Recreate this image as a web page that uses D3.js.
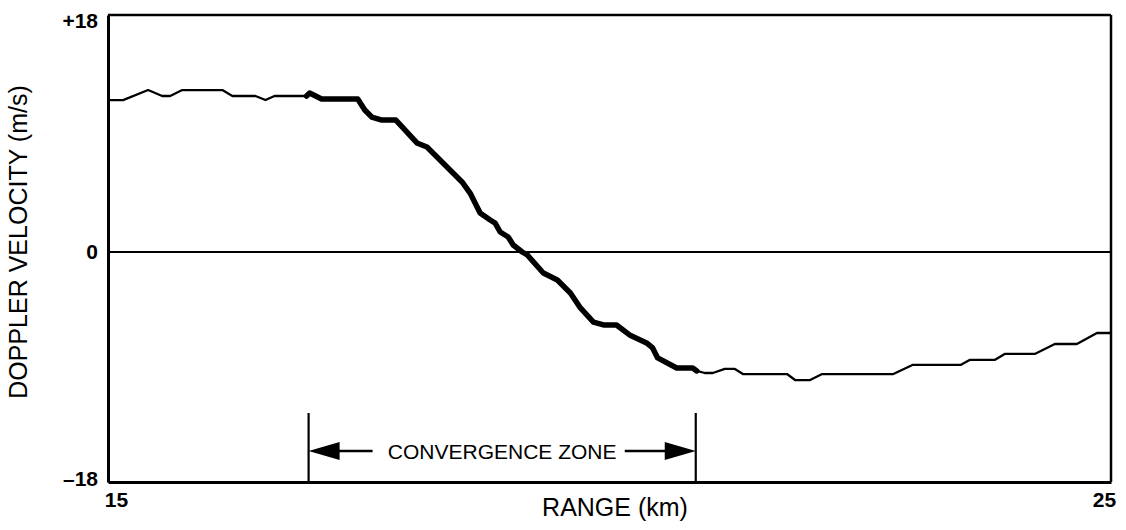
<!DOCTYPE html>
<html>
<head>
<meta charset="utf-8">
<script src="https://cdn.jsdelivr.net/npm/d3@7"></script>
<style>
  html, body { margin: 0; padding: 0; background: #fff; overflow: hidden; }
  svg { display: block; }
  text { font-family: "Liberation Sans", Arial, Helvetica, sans-serif; fill: #000; }
</style>
</head>
<body>
<svg class="chart"></svg>
<script>
// range along the radial (km) and doppler velocity (m/s)
const rangeKm = [15.00, 15.15, 15.40, 15.54, 15.62, 15.74, 16.14, 16.24, 16.47, 16.57, 16.66, 16.98,
  17.01, 17.13, 17.49, 17.56, 17.63, 17.73, 17.87, 18.08, 18.18, 18.36, 18.53, 18.61, 18.71, 18.81,
  18.86, 18.91, 18.99, 19.04, 19.13, 19.18, 19.34, 19.48, 19.61, 19.71, 19.84, 19.94, 20.07, 20.20,
  20.37, 20.43, 20.48, 20.67, 20.83, 20.87,
  20.95, 21.03, 21.15, 21.25, 21.33, 21.77, 21.85, 22.00, 22.12, 22.83, 23.02, 23.50, 23.59, 23.84,
  23.94, 24.24, 24.44, 24.66, 24.86, 25.00];
const velocity = [11.54, 11.54, 12.30, 11.85, 11.85, 12.30, 12.30, 11.85, 11.85, 11.54, 11.85, 11.85,
  12.07, 11.62, 11.62, 10.78, 10.25, 10.02, 10.02, 8.28, 7.97, 6.61, 5.32, 4.48, 2.96, 2.43,
  2.20, 1.52, 1.14, 0.53, 0.00, -0.23, -1.64, -2.19, -3.21, -4.38, -5.48, -5.71, -5.71, -6.49,
  -7.12, -7.51, -8.29, -9.08, -9.08, -9.31,
  -9.47, -9.47, -9.15, -9.15, -9.55, -9.55, -10.02, -10.02, -9.55, -9.55, -8.84, -8.84, -8.45, -8.45,
  -7.98, -7.98, -7.20, -7.20, -6.34, -6.34];

const yTicks = [-18, 0, 18];
const yTickLabels = ["\u201318", "0", "+18"];
const xTicks = [15, 25];
const xTickLabels = ["15", "25"];
const zone = [17.0, 20.86];   // convergence zone (km)
const zoneLabel = "CONVERGENCE ZONE";

const width = 1126;
const height = 530;
const margin = {left: 108, top: 15, right: 15, bottom: 48};
const innerWidth = width - margin.left - margin.right;
const innerHeight = height - margin.top - margin.bottom;

const svg = d3.select('.chart')
  .attr('width', width)
  .attr('height', height);

const data = rangeKm.map((r, i) => ({r: r, v: velocity[i]}));

const x = d3.scaleLinear().domain([15, 25]).range([0, innerWidth]);
const y = d3.scaleLinear().domain([-18, 0, 18]).range([innerHeight, 237, 0]);

const g = svg.append('g')
  .attr('transform', `translate(${margin.left},${margin.top})`);

// zero line
g.append('line')
  .attr('x1', 0).attr('x2', innerWidth)
  .attr('y1', y(0)).attr('y2', y(0))
  .attr('stroke', '#000').attr('stroke-width', 2.2);

// frame
g.append('line').attr('x1', 0).attr('x2', innerWidth).attr('y1', 0).attr('y2', 0)
  .attr('stroke', '#000').attr('stroke-width', 2.5);
g.append('line').attr('x1', innerWidth).attr('x2', innerWidth).attr('y1', 0).attr('y2', innerHeight)
  .attr('stroke', '#000').attr('stroke-width', 2.5);

const line = d3.line().x(d => x(d.r)).y(d => y(d.v));

// thin trace, then thick trace over the convergence zone
g.append('path').datum(data)
  .attr('fill', 'none').attr('stroke', '#000').attr('stroke-width', 2.3)
  .attr('stroke-linejoin', 'round')
  .attr('d', line);
g.append('path').datum(data.filter(d => d.r >= zone[0] - 0.02 && d.r <= zone[1] + 0.02))
  .attr('fill', 'none').attr('stroke', '#000').attr('stroke-width', 5.5)
  .attr('stroke-linejoin', 'round').attr('stroke-linecap', 'round')
  .attr('d', line);

// y axis
const yAxis = d3.axisLeft(y).tickValues(yTicks).tickSize(0).tickPadding(10)
  .tickFormat((d, i) => yTickLabels[i]);
const ya = g.append('g').call(yAxis);
ya.select('.domain').attr('stroke', '#000').attr('stroke-width', 3);
ya.selectAll('text').attr('font-size', 21).attr('font-weight', 'bold')
  .attr('font-family', '"Liberation Sans", Arial, sans-serif')
  .attr('dy', (d, i) => d === 18 ? '0.6em' : (d === -18 ? '0.15em' : '0.32em'));

// x axis
const xAxis = d3.axisBottom(x).tickValues(xTicks).tickSize(0).tickPadding(0)
  .tickFormat((d, i) => xTickLabels[i]);
const xa = g.append('g').attr('transform', `translate(0,${innerHeight})`).call(xAxis);
xa.select('.domain').attr('stroke', '#000').attr('stroke-width', 3.2);
xa.selectAll('text').attr('font-size', 21).attr('font-weight', 'bold')
  .attr('font-family', '"Liberation Sans", Arial, sans-serif')
  .attr('y', 10)
  .attr('dx', d => d === 15 ? 8 : -7);

// axis titles
svg.append('text')
  .attr('transform', `translate(27,${242}) rotate(-90)`)
  .attr('text-anchor', 'middle')
  .attr('font-size', 25)
  .text('DOPPLER VELOCITY (m/s)');

svg.append('text')
  .attr('x', 615).attr('y', 516)
  .attr('text-anchor', 'middle')
  .attr('font-size', 25)
  .text('RANGE (km)');

// convergence zone marker
const zx0 = x(zone[0]);
const zx1 = x(zone[1]);
const ay = innerHeight - 31;
const zg = g.append('g');
[zx0, zx1].forEach(zx => {
  zg.append('line').attr('x1', zx).attr('x2', zx)
    .attr('y1', innerHeight - 69).attr('y2', innerHeight)
    .attr('stroke', '#000').attr('stroke-width', 2.2);
});
zg.append('path')
  .attr('d', `M${zx0},${ay} L${zx0 + 31},${ay - 9} L${zx0 + 31},${ay + 9} Z`)
  .attr('fill', '#000');
zg.append('path')
  .attr('d', `M${zx1},${ay} L${zx1 - 31},${ay - 9} L${zx1 - 31},${ay + 9} Z`)
  .attr('fill', '#000');
zg.append('line').attr('x1', zx0 + 30).attr('x2', zx0 + 64).attr('y1', ay).attr('y2', ay)
  .attr('stroke', '#000').attr('stroke-width', 2.5);
zg.append('line').attr('x1', zx1 - 71).attr('x2', zx1 - 30).attr('y1', ay).attr('y2', ay)
  .attr('stroke', '#000').attr('stroke-width', 2.5);
zg.append('text')
  .attr('x', (zx0 + zx1) / 2).attr('y', ay).attr('dy', '0.36em')
  .attr('text-anchor', 'middle')
  .attr('font-size', 21)
  .text(zoneLabel);
</script>
</body>
</html>
